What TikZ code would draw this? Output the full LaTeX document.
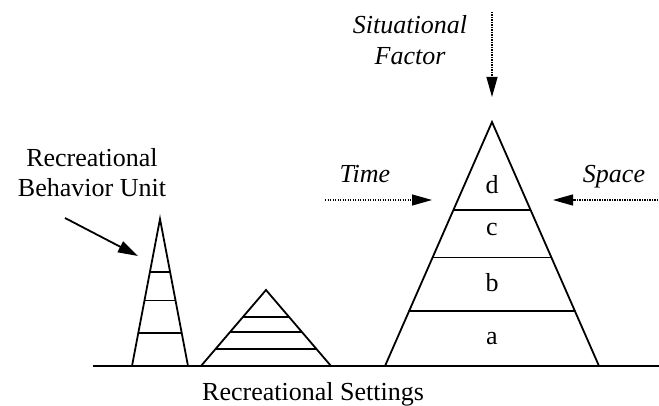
\documentclass[tikz,border=0pt]{standalone}
\usepackage{fontspec}
\setmainfont{Liberation Serif}
\usetikzlibrary{arrows.meta,positioning,calc}

\begin{document}
\begin{tikzpicture}[
  x=1pt, y=-1pt,
  every node/.style={font=\fontsize{26}{30}\selectfont, inner sep=0pt},
  factor/.style={font=\itshape\fontsize{26}{31}\selectfont},
  pyr/.style={draw, line width=1.8pt, line join=miter},
  rung/.style={line width=1.8pt},
  ground/.style={line width=2.8pt},
  dotarrow/.style={dash pattern=on 1.2pt off 1.3pt, line width=1.2pt, -{Triangle[length=20pt,width=11pt]}},
  solidarrow/.style={line width=1.8pt, -{Triangle[length=20pt,width=12pt]}},
]
\useasboundingbox (0,0) rectangle (659,406);

% ---- Ground line ----
\coordinate (g0) at (93,366);
\coordinate (g1) at (659,366);
\draw[ground] (g0) -- (g1);
\node[anchor=base] (settings) at (313,400) {Recreational Settings};

% ---- Pyramids: apex / base left / base right ----
% rungs at the same height fractions in all three
\foreach \name/\ax/\ay/\bl/\br in {p1/160/219/132/188, p2/266/290/201/331, p3/492/122/385/599} {
  \coordinate (\name a) at (\ax,\ay);
  \coordinate (\name l) at (\bl,366);
  \coordinate (\name r) at (\br,366);
  \draw[pyr] (\name l) -- (\name a) -- (\name r);
  \foreach \t in {0.36, 0.555, 0.775}
    \draw[rung] ($(\name a)!\t!(\name l)$) -- ($(\name a)!\t!(\name r)$);
}

% ---- Layers of the large pyramid ----
\node (la) at (492,339) {a};
\node (lb) at (492,283) {b};
\node (lc) at (492,230) {c};
\node (ld) at (492,185) {d};

% ---- Recreational behavior unit ----
\node[align=center] (rbu) at (92,173) {Recreational\\Behavior Unit};
\coordinate (rbuTail) at (65,218);
\coordinate (rbuTip) at (138,256);
\draw[solidarrow] (rbuTail) -- (rbuTip);

% ---- Situational factor ----
\node[factor, align=center] (sf) at (410,40) {Situational\\Factor};
\coordinate (sfTail) at (492,12);
\coordinate (sfTip) at (492,97);
\draw[dotarrow] (sfTail) -- (sfTip);

% ---- Time and space ----
\node[factor, anchor=base] (time) at (365,183) {Time};
\coordinate (timeTail) at (325,200);
\coordinate (timeTip) at (432,200);
\draw[dotarrow] (timeTail) -- (timeTip);

\node[factor, anchor=base] (space) at (614,183) {Space};
\coordinate (spaceTail) at (658,200);
\coordinate (spaceTip) at (553,200);
\draw[dotarrow] (spaceTail) -- (spaceTip);

\end{tikzpicture}
\end{document}
